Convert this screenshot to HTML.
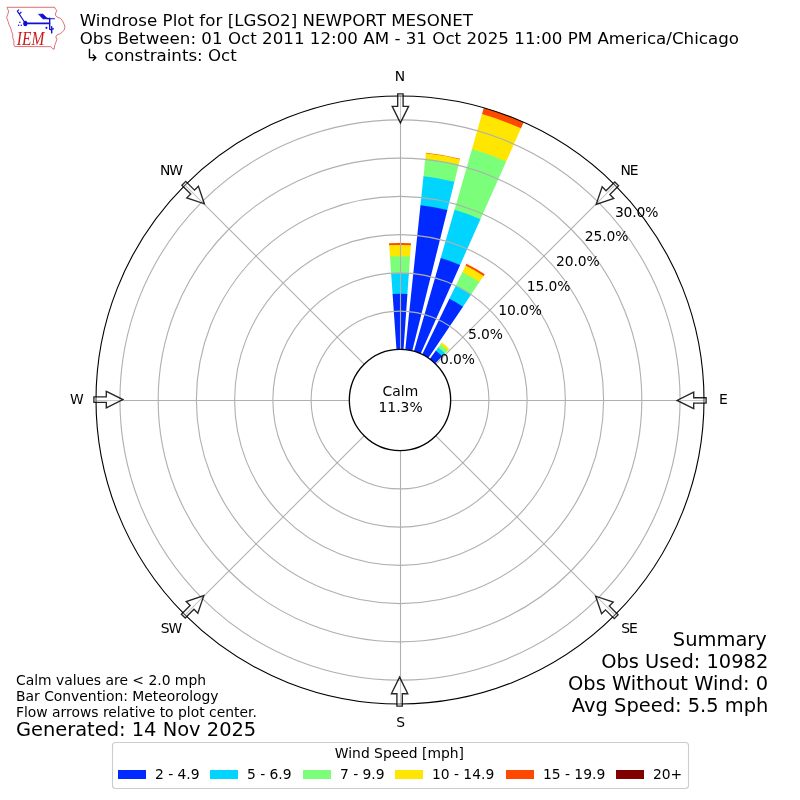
<!DOCTYPE html>
<html lang="en"><head><meta charset="utf-8"><title>Windrose Plot for [LGSO2] NEWPORT MESONET</title>
<style>
html,body{margin:0;padding:0;background:#fff;}
body{width:800px;height:800px;overflow:hidden;}
svg{display:block;}
text{font-family:"DejaVu Sans","Liberation Sans",sans-serif;fill:#000;}
.t12{font-size:16.667px;}
.t10{font-size:13.889px;}
.t14{font-size:19.444px;}
.grid{stroke:#b0b0b0;stroke-width:1.11;fill:none;}
</style></head><body>
<svg width="800" height="800" viewBox="0 0 800 800">
<rect width="800" height="800" fill="#fff"/>
<g id="logo" transform="translate(5 2) scale(0.08125)">
<path d="M25 65L612 65L618 85L640 105L625 130L620 160L640 185L680 200L710 235L730 280L738 310L728 345L700 375L670 395L640 405L625 430L638 460L625 500L610 540L605 580L585 575L565 550L120 548L108 520L110 480L95 440L95 400L80 360L70 320L50 280L38 240L20 190L35 150L45 110L30 85Z" fill="none" stroke="#d23c44" stroke-width="9" stroke-linejoin="round"/>
<g stroke="#1010d4" fill="#1010d4" stroke-linecap="round">
<ellipse cx="250" cy="264" rx="26" ry="34" stroke="none"/>
<path d="M250 263L548 263" stroke-width="20" fill="none"/>
<path d="M550 198L550 335" stroke-width="17" fill="none"/>
<path d="M518 205L608 205" stroke-width="13" fill="none"/>
<path d="M416 150L465 148L514 194L548 206L470 208Z" stroke-width="8" stroke-linejoin="round"/>
<path d="M250 262L152 112M152 112L168 97M178 145L198 126" stroke-width="14" fill="none"/>
<circle cx="183" cy="250" r="9" stroke="none"/><circle cx="167" cy="286" r="9" stroke="none"/><circle cx="200" cy="286" r="9" stroke="none"/>
<circle cx="510" cy="318" r="13" stroke="none"/>
<path d="M575 304L575 380M560 340L595 330" stroke-width="17" fill="none"/>
</g>
<text x="146" y="526" textLength="338" lengthAdjust="spacingAndGlyphs" style="font-family:'Liberation Serif','DejaVu Serif',serif;font-style:italic;font-size:232px;fill:#cc1a1a;">IEM</text>
</g>
<text class="t12" x="79.65" y="25.8" textLength="393.4" lengthAdjust="spacing">Windrose Plot for [LGSO2] NEWPORT MESONET</text>
<text class="t12" x="79.65" y="43.9" textLength="659.4" lengthAdjust="spacing">Obs Between: 01 Oct 2011 12:00 AM - 31 Oct 2025 11:00 PM America/Chicago</text>
<text class="t12" x="80.0" y="60.6" xml:space="preserve"> ↳ constraints: Oct</text>
<g id="bars">
<path d="M389.22 245.86L389.04 243.27A157.11 157.11 0 0 1 410.96 243.27L410.78 245.86A154.52 154.52 0 0 0 389.22 245.86Z" fill="#ff4800"/>
<path d="M390.01 257.15L389.18 245.26A155.12 155.12 0 0 1 410.82 245.26L409.99 257.15A143.20 143.20 0 0 0 390.01 257.15Z" fill="#ffe600"/>
<path d="M391.19 274.00L389.97 256.55A143.80 143.80 0 0 1 410.03 256.55L408.81 274.00A126.30 126.30 0 0 0 391.19 274.00Z" fill="#7bff7b"/>
<path d="M392.63 294.60L391.15 273.41A126.90 126.90 0 0 1 408.85 273.41L407.37 294.60A105.66 105.66 0 0 0 392.63 294.60Z" fill="#00d4ff"/>
<path d="M396.47 349.46L392.59 294.00A106.26 106.26 0 0 1 407.41 294.00L403.53 349.46A50.67 50.67 0 0 0 396.47 349.46Z" fill="#002aff"/>
<path d="M425.86 153.93L425.98 152.80A248.56 248.56 0 0 1 460.13 158.82L459.86 159.92A247.43 247.43 0 0 0 425.86 153.93Z" fill="#ff4800"/>
<path d="M425.30 159.33L425.93 153.33A248.03 248.03 0 0 1 460.00 159.34L458.54 165.19A242.00 242.00 0 0 0 425.30 159.33Z" fill="#ffe600"/>
<path d="M423.44 176.97L425.36 158.73A242.60 242.60 0 0 1 458.69 164.61L454.25 182.40A224.26 224.26 0 0 0 423.44 176.97Z" fill="#7bff7b"/>
<path d="M420.40 205.95L423.50 176.37A224.86 224.86 0 0 1 454.40 181.82L447.20 210.67A195.12 195.12 0 0 0 420.40 205.95Z" fill="#00d4ff"/>
<path d="M405.30 349.61L420.46 205.35A195.72 195.72 0 0 1 447.35 210.09L412.26 350.84A50.67 50.67 0 0 0 405.30 349.61Z" fill="#002aff"/>
<path d="M481.82 114.67L483.79 107.78A304.00 304.00 0 0 1 523.65 122.28L520.73 128.84A296.82 296.82 0 0 0 481.82 114.67Z" fill="#ff4800"/>
<path d="M471.83 149.52L481.98 114.10A297.42 297.42 0 0 1 520.97 128.29L505.99 161.95A260.58 260.58 0 0 0 471.83 149.52Z" fill="#ffe600"/>
<path d="M454.35 210.45L471.99 148.94A261.18 261.18 0 0 1 506.23 161.40L480.20 219.86A197.19 197.19 0 0 0 454.35 210.45Z" fill="#7bff7b"/>
<path d="M440.57 258.52L454.52 209.87A197.79 197.79 0 0 1 480.45 219.31L459.86 265.55A147.18 147.18 0 0 0 440.57 258.52Z" fill="#00d4ff"/>
<path d="M413.97 351.30L440.73 257.95A147.78 147.78 0 0 1 460.11 265.00L420.61 353.71A50.67 50.67 0 0 0 413.97 351.30Z" fill="#002aff"/>
<path d="M465.29 266.14L466.46 263.74A151.60 151.60 0 0 1 484.77 274.32L483.28 276.52A148.94 148.94 0 0 0 465.29 266.14Z" fill="#ff4800"/>
<path d="M462.07 272.73L465.55 265.60A149.54 149.54 0 0 1 483.62 276.03L479.18 282.61A141.60 141.60 0 0 0 462.07 272.73Z" fill="#ffe600"/>
<path d="M455.60 286.00L462.34 272.19A142.20 142.20 0 0 1 479.52 282.11L470.93 294.85A126.84 126.84 0 0 0 455.60 286.00Z" fill="#7bff7b"/>
<path d="M449.10 299.33L455.87 285.46A127.44 127.44 0 0 1 471.26 294.35L462.63 307.14A112.00 112.00 0 0 0 449.10 299.33Z" fill="#00d4ff"/>
<path d="M422.21 354.46L449.36 298.79A112.60 112.60 0 0 1 462.97 306.65L428.33 358.00A50.67 50.67 0 0 0 422.21 354.46Z" fill="#002aff"/>
<path d="M439.90 345.08L441.74 342.55A71.01 71.01 0 0 1 449.33 348.92L447.16 351.17A67.88 67.88 0 0 0 439.90 345.08Z" fill="#ffe600"/>
<path d="M437.86 347.90L440.25 344.60A68.48 68.48 0 0 1 447.57 350.74L444.74 353.67A64.40 64.40 0 0 0 437.86 347.90Z" fill="#7bff7b"/>
<path d="M435.41 351.27L438.21 347.41A65.00 65.00 0 0 1 445.16 353.24L441.84 356.67A60.24 60.24 0 0 0 435.41 351.27Z" fill="#00d4ff"/>
<path d="M429.78 359.01L435.76 350.78A60.84 60.84 0 0 1 442.26 356.24L435.20 363.55A50.67 50.67 0 0 0 429.78 359.01Z" fill="#002aff"/>
</g>
<g class="grid">
<circle cx="400.0" cy="400.0" r="88.90"/>
<circle cx="400.0" cy="400.0" r="127.13"/>
<circle cx="400.0" cy="400.0" r="165.37"/>
<circle cx="400.0" cy="400.0" r="203.60"/>
<circle cx="400.0" cy="400.0" r="241.83"/>
<circle cx="400.0" cy="400.0" r="280.07"/>
<path d="M400.50 349.33L400.50 96.00"/>
<path d="M435.83 364.17L614.96 185.04"/>
<path d="M450.67 400.50L704.00 400.50"/>
<path d="M435.83 435.83L614.96 614.96"/>
<path d="M400.50 450.67L400.50 704.00"/>
<path d="M364.17 435.83L185.04 614.96"/>
<path d="M349.33 400.50L96.00 400.50"/>
<path d="M364.17 364.17L185.04 185.04"/>
</g>
<circle cx="400.0" cy="400.0" r="304.0" fill="none" stroke="#000" stroke-width="1.11"/>
<circle cx="400.0" cy="400.0" r="50.67" fill="#fff" stroke="#000" stroke-width="1.32"/>
<text class="t10" x="400.4" y="396" text-anchor="middle">Calm</text>
<text class="t10" x="400.6" y="412" text-anchor="middle">11.3%</text>
<text class="t10" x="440.00" y="363.50" letter-spacing="-0.12">0.0%</text>
<text class="t10" x="468.10" y="339.40" letter-spacing="-0.12">5.0%</text>
<text class="t10" x="498.30" y="314.75" letter-spacing="-0.12">10.0%</text>
<text class="t10" x="526.75" y="290.75" letter-spacing="-0.12">15.0%</text>
<text class="t10" x="556.00" y="266.20" letter-spacing="-0.12">20.0%</text>
<text class="t10" x="584.75" y="240.75" letter-spacing="-0.12">25.0%</text>
<text class="t10" x="614.90" y="217.10" letter-spacing="-0.12">30.0%</text>
<text class="t10" x="400.00" y="81.25" text-anchor="middle">N</text>
<text class="t10" x="628.96" y="175.09" text-anchor="middle" letter-spacing="-1">NE</text>
<text class="t10" x="723.30" y="404.05" text-anchor="middle">E</text>
<text class="t10" x="628.96" y="633.01" text-anchor="middle" letter-spacing="-1">SE</text>
<text class="t10" x="400.60" y="726.85" text-anchor="middle">S</text>
<text class="t10" x="171.04" y="633.01" text-anchor="middle" letter-spacing="-1">SW</text>
<text class="t10" x="76.80" y="404.05" text-anchor="middle">W</text>
<text class="t10" x="171.04" y="175.09" text-anchor="middle" letter-spacing="-1">NW</text>
<g fill="#fff" fill-opacity="0.3" stroke="#000" stroke-opacity="0.85" stroke-width="1.35" stroke-linejoin="miter">
<path transform="rotate(0 400 400)" d="M397.7 93.9L403.1 93.9L403.1 106.3L408.6 106.3L400.4 122.9L392.2 106.3L397.7 106.3Z"/>
<path transform="rotate(45 400 400)" d="M397.7 93.9L403.1 93.9L403.1 106.3L408.6 106.3L400.4 122.9L392.2 106.3L397.7 106.3Z"/>
<path transform="rotate(90 400 400)" d="M397.7 93.9L403.1 93.9L403.1 106.3L408.6 106.3L400.4 122.9L392.2 106.3L397.7 106.3Z"/>
<path transform="rotate(135 400 400)" d="M397.7 93.9L403.1 93.9L403.1 106.3L408.6 106.3L400.4 122.9L392.2 106.3L397.7 106.3Z"/>
<path transform="rotate(180 400 400)" d="M397.7 93.9L403.1 93.9L403.1 106.3L408.6 106.3L400.4 122.9L392.2 106.3L397.7 106.3Z"/>
<path transform="rotate(225 400 400)" d="M397.7 93.9L403.1 93.9L403.1 106.3L408.6 106.3L400.4 122.9L392.2 106.3L397.7 106.3Z"/>
<path transform="rotate(270 400 400)" d="M397.7 93.9L403.1 93.9L403.1 106.3L408.6 106.3L400.4 122.9L392.2 106.3L397.7 106.3Z"/>
<path transform="rotate(315 400 400)" d="M397.7 93.9L403.1 93.9L403.1 106.3L408.6 106.3L400.4 122.9L392.2 106.3L397.7 106.3Z"/>
</g>
<text class="t10" x="16.0" y="684.6">Calm values are &lt; 2.0 mph</text>
<text class="t10" x="16.0" y="700.7">Bar Convention: Meteorology</text>
<text class="t10" x="16.0" y="716.8">Flow arrows relative to plot center.</text>
<text class="t14" x="15.9" y="736.1">Generated: 14 Nov 2025</text>
<text class="t14" x="766.8" y="645.60" text-anchor="end">Summary</text>
<text class="t14" x="768.3" y="667.60" text-anchor="end">Obs Used: 10982</text>
<text class="t14" x="768.1" y="689.60" text-anchor="end">Obs Without Wind: 0</text>
<text class="t14" x="768.4" y="711.60" text-anchor="end">Avg Speed: 5.5 mph</text>
<rect x="112.5" y="742.5" width="576" height="46" rx="3" ry="3" fill="#fff" stroke="#cccccc" stroke-width="1.1"/>
<text class="t10" x="399.4" y="757.8" text-anchor="middle">Wind Speed [mph]</text>
<rect x="118" y="770" width="28" height="9" fill="#002aff" shape-rendering="crispEdges"/>
<text class="t10" x="154.90" y="779.3">2 - 4.9</text>
<rect x="210" y="770" width="28" height="9" fill="#00d4ff" shape-rendering="crispEdges"/>
<text class="t10" x="246.90" y="779.3">5 - 6.9</text>
<rect x="303" y="770" width="28" height="9" fill="#7bff7b" shape-rendering="crispEdges"/>
<text class="t10" x="339.90" y="779.3">7 - 9.9</text>
<rect x="395" y="770" width="28" height="9" fill="#ffe600" shape-rendering="crispEdges"/>
<text class="t10" x="431.90" y="779.3">10 - 14.9</text>
<rect x="506" y="770" width="28" height="9" fill="#ff4800" shape-rendering="crispEdges"/>
<text class="t10" x="542.90" y="779.3">15 - 19.9</text>
<rect x="616" y="770" width="28" height="9" fill="#800000" shape-rendering="crispEdges"/>
<text class="t10" x="652.90" y="779.3">20+</text>
</svg>
</body></html>
